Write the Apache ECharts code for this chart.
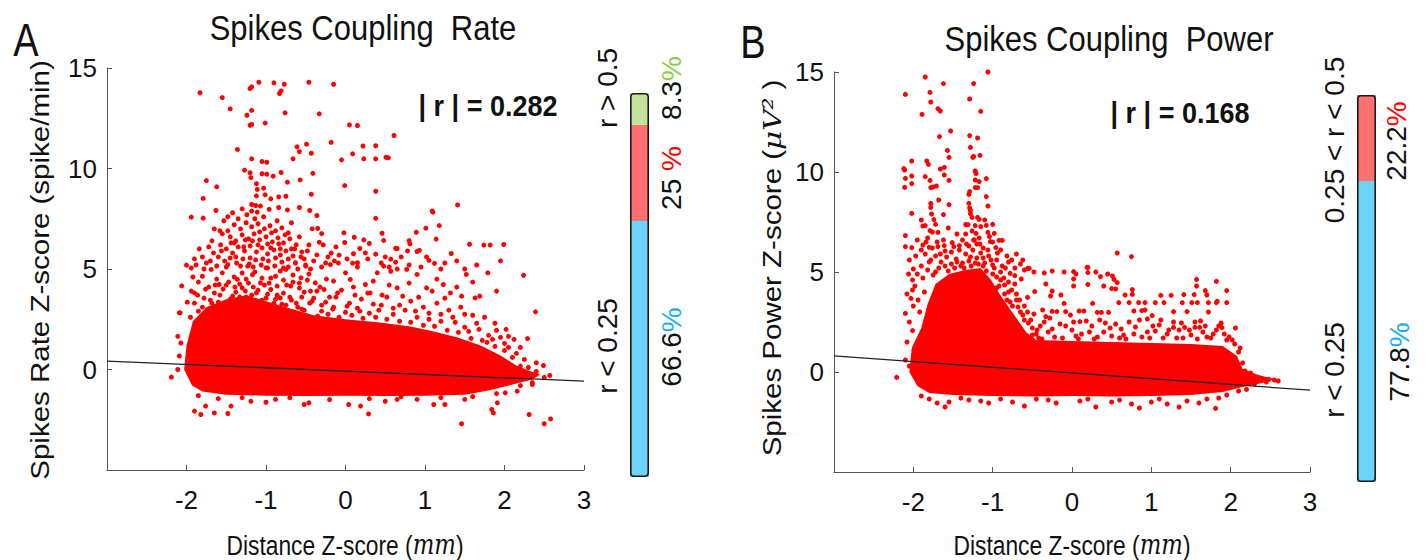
<!DOCTYPE html>
<html><head><meta charset="utf-8">
<script src="https://cdn.jsdelivr.net/npm/echarts@6/dist/echarts.min.js"></script>
<style>html,body{margin:0;padding:0;background:#fff}#c{width:1427px;height:560px}</style>
</head><body><div id="c"></div>
<script>
// ---------- DATA ----------
const panelTitles = ['Spikes Coupling  Rate', 'Spikes Coupling  Power'];
const panelLetters = ['A', 'B'];
const rValues = ['0.282', '0.168'];
const xAxisTitle = 'Distance Z-score (';
const xAxisUnit = 'mm';
const yAxisTitles = ['Spikes Rate Z-score (spike/min)', 'Spikes Power Z-score ('];
const yAxisUnitB = 'μV²';
const xTickLabels = ['-2', '-1', '0', '1', '2', '3'];
const yTickLabels = ['0', '5', '10', '15'];

// regression lines (end points)
const rateFit = [[-3, 0.42], [3, -0.58]];
const powerFit = [[-3, 0.81], [3, -0.91]];

// outline of the saturated (solid) part of the point cloud
const rateCore = [[-2.03,0.0],[-2.0,1.2],[-1.92,2.4],[-1.75,3.1],[-1.5,3.5],[-1.25,3.7],[-1.0,3.4],[-0.75,3.1],[-0.4,2.7],[0.0,2.5],[0.4,2.35],[0.8,2.15],[1.1,1.9],[1.4,1.6],[1.7,1.2],[1.95,0.7],[2.15,0.2],[2.3,-0.05],[2.45,-0.25],[2.35,-0.5],[2.1,-0.75],[1.8,-1.05],[1.5,-1.25],[1.0,-1.3],[0.5,-1.32],[0.0,-1.3],[-0.5,-1.32],[-1.0,-1.3],[-1.5,-1.25],[-1.8,-1.1],[-1.93,-0.8]];

const powerCore = [[-2.05,0.0],[-2.02,1.2],[-1.9,2.2],[-1.82,3.4],[-1.72,4.4],[-1.55,4.9],[-1.35,5.1],[-1.15,5.2],[-1.02,4.6],[-0.88,3.7],[-0.72,2.8],[-0.58,2.0],[-0.45,1.6],[0.0,1.55],[0.5,1.5],[1.0,1.45],[1.5,1.4],[1.9,1.3],[2.08,0.8],[2.15,0.15],[2.35,-0.15],[2.55,-0.35],[2.4,-0.55],[2.15,-0.75],[1.9,-1.0],[1.5,-1.15],[1.0,-1.2],[0.5,-1.22],[0.0,-1.2],[-0.5,-1.22],[-1.0,-1.2],[-1.5,-1.15],[-1.8,-1.05],[-1.95,-0.7]];

// individual (non-saturated) points
const ratePoints = [
[-1.83,13.77],[-1.55,13.53],[-1.45,12.97],[-1.20,13.98],[-1.18,14.06],[-1.09,14.29],[-0.90,14.26],[-0.77,14.19],[-0.81,13.86],[-0.83,13.73],[-0.46,14.29],[-0.15,14.19],[-1.24,12.65],[-1.18,12.89],[-1.20,12.15],[-1.18,12.19],[-1.01,12.26],[-0.76,12.77],[-0.33,12.72],[0.05,12.17],[0.15,12.14],[0.61,11.64],[-1.36,10.95],[-1.18,10.48],[-1.05,10.35],[-0.99,10.31],[-0.61,11.08],[-0.58,10.84],[-0.49,11.21],[-0.43,10.76],[-0.66,10.48],[-0.18,11.3],[-0.05,10.43],[0.09,10.73],[0.22,11.12],[0.38,11.13],[0.23,10.48],[0.38,10.48],[0.51,10.56],[0.54,10.53],
[-1.27,9.92],[-1.20,9.79],[-1.19,9.55],[-1.75,9.40],[-1.62,9.09],[-1.05,9.74],[-0.99,9.72],[-0.91,9.62],[-0.81,9.80],[-0.73,9.32],[-0.57,9.43],[-0.41,9.76],[-1.12,9.24],[-1.03,9.02],[-1.11,8.96],[-1.12,8.64],[-1.01,8.69],[-1.79,8.51],[-0.01,9.15],[0.38,8.87],[-0.94,8.49],[-0.84,8.59],[-0.75,8.62],[-0.43,8.72],[-1.18,8.21],[-1.13,8.16],[-1.07,8.13],[-1.30,7.99],[-1.18,7.88],[-1.11,7.83],[-0.96,7.97],[-0.84,8.06],[-0.73,7.94],[-0.58,8.06],[-0.45,7.91],[-1.63,7.91],[-1.94,7.58],[-1.79,7.53],[-0.36,7.66],[0.38,7.52],[1.09,7.88],[1.10,7.83],[1.41,8.19],[1.18,7.16],[1.01,7.03],[0.89,6.83],[1.14,6.49],[1.56,6.23],[1.74,6.19],[1.82,6.19],[1.99,6.22],[1.33,5.77],[1.05,5.43],[1.12,5.28],[0.80,6.41],[0.81,6.25],[0.78,5.90],[0.90,5.87],[0.93,5.93],[0.63,6.03],[0.65,6.02],[0.57,5.49],[0.63,5.34],[0.46,6.78],[0.48,6.42],[0.23,6.45],[0.11,6.58],[0.30,6.27],[-0.02,6.80],[-0.01,6.32],[0.18,6.02],[0.10,5.76],[-0.08,5.69],[-0.18,5.79],[0.38,5.74],[0.09,5.29],[-0.09,5.30],[-0.30,6.76],[-0.35,7.02],[-0.33,6.33],
[-1.40,7.2],[-1.32,7.0],[-1.25,7.3],[-1.18,7.1],[-1.10,7.25],[-1.02,7.0],[-0.95,7.15],[-0.88,6.9],[-0.80,7.05],[-0.72,6.8],[-1.45,6.6],[-1.38,6.4],[-1.30,6.7],[-1.22,6.5],[-1.15,6.75],[-1.08,6.45],[-1.00,6.6],[-0.92,6.35],[-0.85,6.55],[-0.78,6.3],[-0.70,6.5],[-0.62,6.2],[-1.50,6.0],[-1.42,5.8],[-1.35,6.1],[-1.27,5.9],[-1.20,6.15],[-1.12,5.85],[-1.05,6.05],[-0.98,5.75],[-0.90,5.95],[-0.82,5.7],[-0.75,5.9],[-0.66,5.65],[-0.55,5.85],[-1.60,5.6],[-1.52,5.4],[-1.45,5.55],[-1.37,5.3],[-1.29,5.5],[-1.21,5.25],[-1.13,5.45],[-1.06,5.2],[-0.97,5.4],[-0.89,5.15],[-0.80,5.35],[-0.72,5.1],[-0.63,5.3],[-0.50,5.2],[-0.40,5.4],
[-1.68,6.4],[-1.72,6.1],[-1.80,5.6],[-1.58,6.9],[-1.65,7.0],[-1.53,7.4],[-1.48,7.6],[-1.42,7.8],[-1.55,6.75],[-1.88,5.2],[-1.94,5.05],
[-0.28,6.2],[-0.22,5.6],[-0.12,6.1],[0.02,5.5],[0.28,5.5],[0.45,5.3],[0.55,5.1],[0.70,5.6],[0.95,5.1],[1.25,5.3],[1.50,5.0],
[-2.00,5.19],[-2.06,4.16],[-1.99,3.35],[-2.08,2.82],[-1.94,3.90],[-1.90,3.81],[-1.80,4.64],[-1.69,4.98],[-1.65,3.81],[-1.59,4.23],[-1.55,4.81],[-1.48,5.22],[-1.42,3.65],[-1.36,4.48],[-1.30,4.06],[-1.23,5.14],[-1.17,4.72],[-1.12,3.81],[-1.07,4.31],[-1.00,5.06],[-0.94,3.98],[-0.88,4.64],[-0.82,3.56],[-0.75,4.98],[-0.69,4.15],[-0.63,5.31],[-0.56,4.56],[-0.50,5.14],[-0.44,3.90],[-0.38,4.31],[-0.27,3.98],[-0.19,5.22],[-0.10,3.81],[0.00,4.81],[0.06,4.48],[0.15,5.31],[0.25,4.23],[0.31,3.81],[0.40,4.81],[0.48,5.14],[0.57,4.89],[0.65,4.06],[0.77,4.98],[0.90,4.73],[1.02,4.06],[1.09,3.90],[1.23,4.23],[1.32,3.81],[1.46,3.65],[1.52,4.73],[1.63,3.56],[1.69,3.65],[1.79,4.81],[2.24,4.69],[2.39,2.87],[2.29,1.54],[2.40,0.33],[2.49,0.20],[2.57,-0.30],[2.20,0.17],
[-1.50,3.2],[-1.35,3.4],[-1.25,3.6],[-1.05,3.45],[-0.90,3.3],[-0.75,3.2],[-0.60,3.1],[-0.45,3.3],[-0.30,2.9],[-0.15,3.1],[0.00,2.85],[0.15,3.05],[0.30,2.8],[0.45,3.2],[0.60,2.75],[0.75,2.95],[0.90,2.6],[1.05,2.8],[1.20,2.4],[1.35,2.6],[1.50,2.1],[1.65,2.3],[1.80,1.7],[1.95,1.6],[2.05,1.1],[2.15,0.8],[2.25,0.5],
[-1.90,-2.07],[-1.82,-2.24],[-1.76,-1.82],[-1.65,-2.16],[-1.48,-2.19],[-1.44,-1.82],[-1.19,-1.58],[-1.00,-1.63],[-0.88,-1.49],[-0.52,-1.74],[-0.46,-1.66],[0.04,-1.74],[0.19,-1.82],[0.29,-2.21],[0.50,-1.58],[0.65,-1.49],[0.90,-1.49],[1.11,-1.74],[1.25,-1.74],[1.50,-1.49],[1.84,-1.99],[1.86,-2.16],[1.91,-1.66],[2.01,-1.16],[2.31,-2.24],[2.50,-2.70],[2.58,-2.46],[1.46,-2.70],[2.16,-1.08],
[-1.85,-1.3],[-1.6,-1.45],[-1.3,-1.4],[-0.7,-1.4],[-0.2,-1.5],[0.3,-1.45],[0.7,-1.35],[1.2,-1.4],[1.6,-1.35],[1.9,-1.2],[2.2,-0.8],[2.35,-0.65],
[-2.19,-0.38],[-2.11,0.0],[-2.09,0.67],[-2.11,1.65],[-2.09,2.82],[-2.07,1.32],
[-1.95,2.6],[-1.85,2.9],[-1.72,2.75],[-1.62,3.05],[-1.4,2.95],[-1.15,3.15],[-0.95,3.05],[-0.82,2.85],[-0.65,2.8],[-0.52,2.95],[-0.35,2.65],[-0.22,2.75],[-0.08,2.6],[0.08,2.7],[0.22,2.55],[0.38,2.6],[0.52,2.5],[0.68,2.4],[0.82,2.35],[0.98,2.2],[1.12,2.15],[1.28,1.95],[1.42,1.85],[1.58,1.55],[1.72,1.45],[1.88,1.15],[2.0,0.95],
[-1.9,3.3],[-1.78,3.55],[-1.68,3.3],[-1.58,3.7],[-1.45,3.5],[-1.38,3.85],[-1.28,3.3],[-1.18,3.7],[-1.12,3.4],[-0.98,3.75],[-0.88,3.5],[-0.78,3.8],[-0.68,3.45],[-0.55,3.6],[-0.40,3.55],[-0.25,3.35],[-0.12,3.6],[0.05,3.3],[0.20,3.5],[0.35,3.25],[0.52,3.6],[0.68,3.2],[0.82,3.4],[0.98,3.1],[1.15,3.3],[1.30,2.95],[1.45,3.1],[1.60,2.7],[1.75,2.6],[1.88,2.3],[2.02,2.0],[2.12,1.5],
[-1.85,4.35],[-1.72,4.1],[-1.62,4.5],[-1.50,4.2],[-1.40,4.6],[-1.33,4.25],[-1.25,4.5],[-1.16,4.1],[-1.05,4.55],[-0.96,4.3],[-0.86,4.15],[-0.78,4.45],[-0.66,4.35],[-0.58,4.05],[-0.48,4.45],[-0.32,4.1],[-0.15,4.4],[0.10,4.1],[0.35,4.4],[0.55,4.2],[0.80,4.3],[1.15,4.5],[1.40,4.1],[1.60,4.35],[1.90,3.9],
[-1.75,5.3],[-1.66,5.8],[-1.57,6.2],[-1.48,6.9],[-1.40,6.3],[-1.35,7.5],[-1.28,6.1],[-1.24,7.7],[-1.17,6.4],[-1.14,7.5],[-1.08,6.85],[-1.03,7.6],[-0.98,6.25],[-0.93,6.8],[-0.86,7.4],[-0.82,6.0],[-0.76,6.7],[-0.68,7.3],[-0.64,6.0],[-0.58,6.6],[-0.52,5.5],[-0.46,6.2],[-0.42,7.0],[-0.25,5.3],[0.15,5.1],[0.65,5.0],[1.02,5.6],[1.40,5.4],[1.65,5.2],[1.95,5.4],
[2.1,-0.55],[2.25,-0.3],[2.3,0.1],[2.4,-0.1],[2.0,1.3],[1.85,1.5],[2.35,-0.75],[2.5,-0.4],
[-1.92,4.6],[-1.86,3.7],[-1.8,3.1],[-1.76,4.0],[-1.7,3.45],[-1.64,4.2],[-1.6,3.35],[-1.54,4.0],[-1.52,3.3],[-1.47,4.35],[-1.43,3.2],[-1.39,4.1],[-1.33,3.6],[-1.3,4.8],[-1.26,3.9],[-1.22,4.3],[-1.2,3.45],[-1.14,4.85],[-1.1,3.95],[-1.08,3.25],[-1.02,4.2],[-1.0,3.55],[-0.94,4.55],[-0.92,3.2],[-0.86,3.7],[-0.82,4.9],[-0.8,3.25],[-0.74,4.2],[-0.7,3.6],[-0.66,4.7],[-0.62,3.3],[-0.58,4.3],[-0.55,3.0],[-0.52,3.85],[-0.46,4.75],[-0.42,3.4],[-0.36,3.9],[-0.3,3.2],[-0.24,4.5],[-0.2,3.6],[-0.16,3.0],[-0.05,3.95],[0.02,3.15],[0.12,3.7],[0.18,2.9],[0.28,3.8],[0.42,2.95],[0.46,3.7],[0.6,3.05],[0.72,3.65],[0.88,2.9],[0.92,3.6],[1.05,2.5],[1.2,2.75],[1.25,3.55],[1.38,2.35],[1.5,2.75],[1.55,1.9],[1.68,2.0],[1.78,1.35],[1.9,1.95],[2.05,1.65],[2.1,0.6],[2.2,1.1],
[-1.9,5.5],[-1.84,6.0],[-1.78,5.0],[-1.7,5.4],[-1.62,5.15],[-1.56,5.9],[-1.5,5.1],[-1.44,6.3],[-1.38,5.6],[-1.32,5.15],[-1.26,6.45],[-1.2,5.55],[-1.16,5.1],[-1.1,6.2],[-1.04,5.5],[-0.98,5.05],[-0.94,6.05],[-0.88,5.55],[-0.84,6.25],[-0.78,5.05],[-0.72,5.5],[-0.68,6.0],[-0.6,5.0],[-0.56,5.6],[-0.48,5.9],[-0.44,5.0],[-0.36,5.7],[-0.3,5.1],[-0.14,5.4],[0.25,5.8],[0.5,5.6],[0.8,5.2],[1.2,5.0]
];

const powerPoints = [
[-2.10,13.88],[-1.85,14.75],[-1.62,14.42],[-1.79,13.98],[-1.78,13.5],[-1.69,13.17],[-1.66,13.05],[-1.89,12.88],[-1.24,14.42],[-1.06,15.0],[-1.29,13.65],[-1.15,13.03],[-1.53,12.05],[-1.67,11.77],[-1.29,11.82],[-1.19,11.7],[-1.28,11.23],[-1.57,11.08],[-1.55,10.73],[-1.24,10.78],[-1.25,10.73],[-1.16,10.83],[-2.02,10.55],[-1.83,10.55],[-1.81,10.38],[-2.12,10.17],[-2.11,10.1],[-2.10,9.68],[-2.02,9.8],[-2.02,9.42],[-2.11,9.23],[-1.85,9.77],[-1.79,9.58],[-1.78,9.22],[-1.75,9.25],[-1.71,9.3],[-1.66,10.15],[-1.61,10.23],[-1.61,9.85],[-1.55,9.58],[-1.22,10.05],[-1.21,9.92],[-1.22,9.6],[-1.17,9.52],[-1.19,9.22],[-1.22,9.22],[-1.08,9.67],[-1.29,9.02],[-1.30,8.88],[-1.08,8.77],[-1.06,8.3],[-1.68,8.6],[-1.78,8.43],[-1.78,8.23],[-1.77,7.9],[-1.55,8.37],[-1.62,7.87],[-2.02,7.93],[-1.30,8.43],[-1.29,8.2],[-1.28,8.08],[-1.28,7.92],[-1.26,7.73],[-1.19,7.73],[-1.17,7.63],[-1.88,7.3],[-1.85,7.32],[-1.74,7.62],[-1.72,7.38],[-1.79,7.07],[-1.69,6.98],[-2.10,6.82],[-2.10,6.27],[-2.02,6.22],[-1.34,7.37],[-1.31,7.37],[-1.22,7.32],[-1.15,7.27],[-1.08,7.33],[-1.00,7.38],[-1.06,6.98],[-0.98,6.93],[-0.88,6.58],[-0.92,6.58],[-1.34,6.9],[-1.21,6.93],[-1.23,6.6],[-1.20,6.4],[-1.88,6.35],[-1.80,6.23],[-1.69,6.27],[-1.61,6.32],[-1.51,6.47],[-1.49,6.27],[-1.42,6.32],[-1.04,6.77],[-1.03,6.52],[-0.96,6.22],[0.57,5.95],[0.75,5.77],[-0.54,5.18],[0.19,5.23],
[-1.85,5.9],[-1.78,5.6],[-1.72,5.8],[-1.65,5.5],[-1.58,5.75],[-1.52,5.4],[-1.46,5.65],[-1.40,5.3],[-1.34,5.9],[-1.30,5.55],[-1.25,6.1],[-1.20,5.7],[-1.15,5.95],[-1.10,5.45],[-1.05,5.8],[-1.00,5.35],[-0.95,5.6],[-0.88,5.3],[-0.80,5.5],[-0.72,5.2],[-0.65,5.4],[-0.60,5.1],[-0.48,5.0],[-0.35,4.95],[-0.25,5.05],[-0.10,5.0],[0.05,4.9],[0.30,5.0],[0.45,4.9],[-1.9,5.3],[-1.95,4.9],[-2.05,5.6],[-2.0,5.15],
[0.20,5.23],[0.20,4.97],[0.02,5.02],[0.02,4.65],[0.02,4.3],[0.20,4.38],[0.36,4.77],[0.51,4.8],[0.53,4.63],[0.57,4.47],[0.55,4.15],[0.50,4.17],[0.40,4.3],[1.57,4.63],[1.57,4.3],[1.82,4.53],[1.95,4.07],[0.76,4.12],[0.67,3.85],[0.76,3.88],[1.12,3.83],[1.25,3.83],[1.41,3.87],[1.54,3.87],[1.68,4.07],[1.70,3.85],[1.83,3.53],[1.95,3.47],[1.82,3.47],
[0.59,3.47],[0.72,3.47],[0.84,3.47],[0.92,3.47],[1.05,3.47],[1.16,3.47],[1.39,3.47],[1.51,3.47],[1.58,3.47],[1.72,3.47],
[0.26,3.43],[0.09,3.05],[0.15,3.05],[0.32,2.98],[0.37,2.98],[0.46,2.98],[0.78,3.05],[0.88,3.07],[0.92,3.1],[1.01,2.82],[1.28,3.02],[1.45,3.02],[1.72,3.0],[1.85,2.3],[1.89,2.22],[1.28,2.23],[1.42,2.23],[1.55,2.23],[1.61,2.23],
[-0.33,4.4],[-0.25,4.05],[-0.27,3.8],[-0.14,3.85],[-0.10,3.43],[-0.37,3.1],[-0.33,2.77],[-0.25,3.03],[-0.19,3.02],[-0.08,3.02],[-0.02,2.85],[0.10,2.52],
[-0.64,4.65],[-0.78,4.93],[-0.72,4.82],[-0.56,5.18],[-0.47,4.02],[-0.56,3.73],
[2.18,0.05],[2.23,-0.32],[2.37,-0.35],[2.48,-0.37],[2.55,-0.40],[2.20,-0.87],[1.81,-1.82],[-2.21,-0.27],
[-2.01,4.6],[-2.01,4.1],[-2.03,3.68],[-2.10,2.93],[-2.01,2.07],[-2.08,1.5],[-2.10,0.6],[-2.05,0.3],
[-0.40,2.3],[-0.30,2.0],[-0.15,2.4],[0.0,2.1],[0.12,1.9],[0.25,2.3],[0.40,2.0],[0.55,2.4],[0.65,1.85],[0.80,2.25],[0.95,2.0],[1.10,2.35],[1.20,1.9],[1.35,2.1],[1.50,1.85],[1.65,2.0],[1.75,1.7],[1.95,1.6],[2.05,1.4],
[-1.8,-1.35],[-1.55,-1.5],[-1.3,-1.4],[-1.05,-1.55],[-0.75,-1.5],[-0.45,-1.35],[-0.2,-1.55],[0.1,-1.45],[0.3,-1.75],[0.5,-1.5],[0.75,-1.6],[1.0,-1.5],[1.2,-1.6],[1.45,-1.45],[1.7,-1.35],[1.95,-1.15],[2.1,-0.95],[-1.6,-1.75],[-1.9,-1.2],[-0.6,-1.7],[0.85,-1.8],
[-0.95,4.2],[-0.85,3.9],[-0.75,3.3],[-0.65,3.0],[-0.6,2.6],[-0.5,2.2],[-0.9,4.6],[-0.8,4.0],[-0.7,3.6],
[-0.45,1.9],[-0.35,2.5],[-0.22,1.75],[-0.08,2.3],[0.05,1.8],[0.18,2.55],[0.32,1.75],[0.48,2.2],[0.60,1.7],[0.72,2.5],[0.88,1.75],[1.02,2.3],[1.15,1.7],[1.28,2.5],[1.40,1.7],[1.55,2.5],[1.70,1.75],[1.82,2.1],[1.92,1.9],[2.02,1.6],[-0.28,2.7],[0.35,2.6],[0.95,2.65],[1.62,2.55],
[-2.08,3.9],[-2.05,2.5],[-1.98,4.3],[-1.92,3.0],[-1.88,4.7],[-1.82,5.1],[-1.75,4.85],[-1.68,5.2],[-1.6,5.3],[-1.45,5.5],[-1.38,5.45],[-1.28,5.75],[-1.22,5.45],[-1.12,5.3],[-1.08,5.05],[-1.0,4.9],[-0.95,4.75],[-0.92,4.3],[-0.85,4.35],[-0.82,3.6],[-0.78,3.5],[-0.68,3.25],[-0.62,2.85],[-0.55,2.45],[-0.5,1.85],[-0.42,1.7],
[-1.95,6.6],[-1.9,7.6],[-1.82,6.7],[-1.76,7.0],[-1.62,6.6],[-1.56,7.2],[-1.45,6.9],[-1.38,6.6],[-1.3,6.3],[-1.26,7.05],[-1.17,6.7],[-1.12,6.2],[-1.1,7.6],[-1.0,6.5],[-0.9,6.1],[-0.82,5.8],[-0.76,5.6],[-0.7,5.9],[-0.62,5.6],
[-1.7,-1.55],[-1.4,-1.3],[-1.15,-1.45],[-0.9,-1.35],[-0.3,-1.4],[0.2,-1.35],[0.6,-1.4],[1.1,-1.35],[1.35,-1.75],[1.6,-1.55],[1.85,-1.3],
[2.3,-0.6],[2.45,-0.5],[2.6,-0.45],[2.25,-0.05],[2.15,0.45],[2.1,1.0],
[-2.06,4.9],[-2.0,3.3],[-1.97,5.8],[-1.94,3.6],[-1.9,6.1],[-1.86,4.0],[-1.84,6.5],[-1.8,5.5],[-1.76,6.2],[-1.72,5.0],[-1.7,6.5],[-1.66,5.9],[-1.6,6.05],[-1.56,5.05],[-1.52,6.0],[-1.48,5.2],[-1.42,6.1],[-1.36,5.2],[-1.33,6.4],[-1.27,5.3],[-1.24,6.6],[-1.18,5.4],[-1.16,6.4],[-1.12,5.7],[-1.06,6.1],[-1.02,5.6],[-0.98,5.2],[-0.94,5.95],[-0.9,5.0],[-0.86,4.7],[-0.84,5.2],[-0.8,4.5],[-0.76,4.1],[-0.72,4.4],[-0.7,3.9],[-0.66,3.6],[-0.6,3.3],[-0.56,3.0],[-0.52,2.6],[-0.48,2.9],[-0.44,2.1],
[-0.38,1.65],[-0.25,2.15],[-0.12,1.7],[0.02,2.5],[0.08,1.65],[0.22,2.0],[0.28,1.65],[0.42,2.45],[0.5,1.8],[0.62,2.15],[0.68,1.65],[0.78,1.9],[0.85,2.6],[0.98,1.7],[1.05,2.05],[1.12,2.6],[1.22,2.1],[1.32,1.7],[1.38,2.45],[1.48,2.1],[1.58,1.65],[1.68,2.3],[1.78,1.9],[1.88,2.45],[1.98,1.75],[2.06,2.2],[2.12,1.2]
];

// share of correlation classes (stacked from bottom)
const rateShareClasses = ['r < 0.25', '0.25 < r < 0.5', 'r > 0.5'];
const rateShares = [66.6, 25, 8.3];
const powerShareClasses = ['r < 0.25', '0.25 < r < 0.5'];
const powerShares = [77.8, 22.2];

// ---------- STYLE ----------
const FONT = "'Liberation Sans', Arial, sans-serif";
const SERIF = "'DejaVu Serif', 'Liberation Serif', serif";
const DOT = '#ff0000';
const shareFill = ['#6dd3f7', '#ff7070', '#c4e29c'];
const shareText = ['#1aaeef', '#ff0000', '#8ccf4d'];
const axisGrey = '#555';

const chart = echarts.init(document.getElementById('c'), null, {renderer: 'svg'});

function xAx(grid) {
  return {
    gridIndex: grid, type: 'value', min: -3, max: 3, interval: 1,
    axisLine: {onZero: false, lineStyle: {color: axisGrey, width: 1}},
    axisTick: {inside: true, length: 5, lineStyle: {color: axisGrey}},
    axisLabel: {color: '#111', fontSize: 26, fontFamily: FONT, margin: 17,
      formatter: v => xTickLabels.includes(String(v)) ? String(v) : ''},
    splitLine: {show: false}
  };
}
function yAx(grid) {
  return {
    gridIndex: grid, type: 'value', min: -5, max: 15, interval: 5,
    axisLine: {onZero: false, lineStyle: {color: axisGrey, width: 1}},
    axisTick: {inside: true, length: 5, lineStyle: {color: axisGrey}},
    axisLabel: {color: '#111', fontSize: 26, fontFamily: FONT, margin: 10,
      formatter: v => yTickLabels.includes(String(v)) ? String(v) : ''},
    splitLine: {show: false}
  };
}
function coreSeries(idx, pts) {
  return {
    type: 'custom', xAxisIndex: idx, yAxisIndex: idx, data: pts, silent: true, z: 2,
    renderItem: (params, api) => {
      if (params.dataIndex !== 0) return null;
      return {type: 'polygon', shape: {points: pts.map(p => api.coord(p))}, style: {fill: DOT}};
    }
  };
}
function dotSeries(idx, pts) {
  return {type: 'scatter', xAxisIndex: idx, yAxisIndex: idx, data: pts, symbolSize: 5,
    itemStyle: {color: DOT, opacity: 1}, silent: true, z: 3};
}
function fitSeries(idx, pts) {
  return {type: 'line', xAxisIndex: idx, yAxisIndex: idx, data: pts, symbol: 'none',
    lineStyle: {color: '#222', width: 1.3}, silent: true, z: 5};
}
function shareSeries(idx, shares, key) {
  const total = shares.reduce((a, b) => a + b, 0);
  const s = shares.map((v, i) => ({type: 'bar', xAxisIndex: idx, yAxisIndex: idx, stack: key,
    data: [v], barWidth: '100%', itemStyle: {color: shareFill[i]}, silent: true, z: 2}));
  s.push({type: 'bar', xAxisIndex: idx, yAxisIndex: idx, data: [total], barWidth: '100%', barGap: '-100%',
    itemStyle: {color: 'rgba(0,0,0,0)', borderColor: '#1a1a1a', borderWidth: 1.6, borderRadius: 3}, silent: true, z: 4});
  return {series: s, total};
}
const shA = shareSeries(2, rateShares, 'ra');
const shB = shareSeries(3, powerShares, 'pw');

// text helper: rot = rotate 90deg (reads bottom-to-top), sx/sy stretch the glyphs
function txt(x, y, text, size, opt) {
  opt = opt || {};
  return {type: 'text', x, y, rotation: opt.rot ? Math.PI / 2 : 0, scaleX: opt.sx || 1, scaleY: opt.sy || 1, silent: true,
    style: {text, rich: opt.rich, fontSize: size, fontFamily: FONT, fontWeight: opt.weight || 'normal', fill: '#111',
      align: 'center', verticalAlign: 'middle'}};
}
const unitRich = (size) => ({t: {fontSize: size, fontFamily: FONT, fill: '#111'},
  m: {fontSize: size, fontFamily: SERIF, fontStyle: 'italic', fill: '#111'}});
const pctRich = {n: {fontSize: 28, fontFamily: FONT, fill: '#111'},
  b: {fontSize: 28, fontFamily: FONT, fill: shareText[0]},
  r: {fontSize: 28, fontFamily: FONT, fill: shareText[1]},
  g: {fontSize: 28, fontFamily: FONT, fill: shareText[2]}};
const pctKey = ['b', 'r', 'g'];
const pct = (v, i) => `{n|${Number.isInteger(v) ? v + ' ' : v}}{${pctKey[i]}|%}`;

chart.setOption({
  animation: false,
  backgroundColor: '#fff',
  grid: [
    {left: 107, top: 68, width: 477, height: 402},
    {left: 834, top: 72, width: 476, height: 400},
    {left: 630, top: 93, width: 19, height: 384},
    {left: 1357, top: 95, width: 19, height: 387}
  ],
  xAxis: [xAx(0), xAx(1),
    {gridIndex: 2, type: 'category', data: ['A'], show: false},
    {gridIndex: 3, type: 'category', data: ['B'], show: false}],
  yAxis: [yAx(0), yAx(1),
    {gridIndex: 2, type: 'value', min: 0, max: shA.total, show: false},
    {gridIndex: 3, type: 'value', min: 0, max: shB.total, show: false}],
  series: [
    coreSeries(0, rateCore), dotSeries(0, ratePoints), fitSeries(0, rateFit),
    coreSeries(1, powerCore), dotSeries(1, powerPoints), fitSeries(1, powerFit),
    ...shA.series, ...shB.series
  ],
  graphic: [
    txt(26, 40, panelLetters[0], 38, {sy: 1.2}), txt(753, 42, panelLetters[1], 38, {sy: 1.2}),
    txt(363, 28, panelTitles[0], 31, {sy: 1.12}), txt(1109, 39, panelTitles[1], 31, {sy: 1.12}),
    txt(488, 106, '| r | = ' + rValues[0], 27, {weight: 'bold', sy: 1.1}),
    txt(1180, 113, '| r | = ' + rValues[1], 27, {weight: 'bold', sy: 1.1}),
    // axis titles
    txt(345, 545, `{t|${xAxisTitle}}{m|${xAxisUnit}}{t|)}`, 24, {rich: unitRich(24), sy: 1.15, sx: 0.95}),
    txt(1072, 545, `{t|${xAxisTitle}}{m|${xAxisUnit}}{t|)}`, 24, {rich: unitRich(24), sy: 1.15, sx: 0.95}),
    txt(40, 270, yAxisTitles[0], 25, {rot: true, sx: 1.18}),
    txt(772, 268, `{t|${yAxisTitles[1]}}{m|${yAxisUnitB}}{t| )}`, 25, {rot: true, sx: 1.18, rich: unitRich(25)}),
    // colour-bar labels
    txt(607, 88, rateShareClasses[2], 28, {rot: true}),
    txt(671, 88, pct(rateShares[2], 2), 28, {rot: true, rich: pctRich}),
    txt(671, 178, pct(rateShares[1], 1), 28, {rot: true, rich: pctRich}),
    txt(607, 346, rateShareClasses[0], 28, {rot: true}),
    txt(671, 347, pct(rateShares[0], 0), 28, {rot: true, rich: pctRich}),
    txt(1334, 140, powerShareClasses[1], 28, {rot: true}),
    txt(1396, 141, pct(powerShares[1], 1), 28, {rot: true, rich: pctRich}),
    txt(1334, 370, powerShareClasses[0], 28, {rot: true}),
    txt(1399, 362, pct(powerShares[0], 0), 28, {rot: true, rich: pctRich})
  ]
});
</script></body></html>
